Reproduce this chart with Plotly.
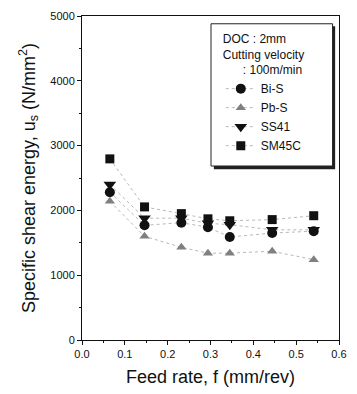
import plotly.graph_objects as go

feed = [0.065, 0.146, 0.232, 0.294, 0.345, 0.444, 0.541]
bi_s = [2280, 1770, 1810, 1740, 1590, 1650, 1680]
pb_s = [2140, 1600, 1430, 1340, 1340, 1370, 1240]
ss41 = [2400, 1880, 1880, 1800, 1780, 1700, 1700]
sm45c = [2795, 2054, 1950, 1870, 1840, 1858, 1918]

series = [
    ("Bi-S", bi_s, "circle", "#111111", 10, "dot"),
    ("Pb-S", pb_s, "triangle-up", "#808080", 9, "dot"),
    ("SS41", ss41, "triangle-down", "#111111", 11, "dot"),
    ("SM45C", sm45c, "square", "#111111", 9, "dot"),
]

fig = go.Figure()
for name, ys, sym, col, sz, dash in series:
    fig.add_trace(go.Scatter(
        x=feed, y=ys, name=name, mode="lines+markers",
        marker=dict(symbol=sym, size=sz, color=col, line=dict(width=0)),
        line=dict(color="#b8b8b8", width=1, dash=dash),
    ))

font = "Liberation Sans, Arial, sans-serif"
# legend box with shadow
fig.add_shape(type="rect", xref="paper", yref="paper", x0=0.513, x1=0.985, y0=0.527, y1=0.968,
              fillcolor="#222", line=dict(width=0), layer="above")
fig.add_shape(type="rect", xref="paper", yref="paper", x0=0.502, x1=0.975, y0=0.537, y1=0.976,
              fillcolor="white", line=dict(color="#222", width=1), layer="above")

fig.update_layout(
    width=357, height=394,
    margin=dict(l=82, r=14, t=10, b=53),
    paper_bgcolor="white", plot_bgcolor="white",
    font=dict(family=font, color="#111", size=11),
    showlegend=True,
    legend=dict(
        x=0.54, y=0.965, xanchor="left", yanchor="top",
        bgcolor="rgba(0,0,0,0)", borderwidth=0,
        font=dict(size=12, family=font),
        title=dict(text="DOC : 2mm<br>Cutting velocity<br>      : 100m/min", font=dict(size=12, family=font)),
        tracegroupgap=0, itemwidth=30,
    ),
    xaxis=dict(
        range=[0, 0.6], tickvals=[0, 0.1, 0.2, 0.3, 0.4, 0.5, 0.6],
        ticktext=["0.0", "0.1", "0.2", "0.3", "0.4", "0.5", "0.6"],
        ticks="outside", ticklen=4, tickcolor="#111",
        minor=dict(tickvals=[0.05, 0.15, 0.25, 0.35, 0.45, 0.55], ticks="outside", ticklen=2, tickcolor="#111"),
        showline=True, linecolor="#111", linewidth=1, mirror=True,
        showgrid=False, zeroline=False,
        title=dict(text="Feed rate, f (mm/rev)", font=dict(size=18, family=font), standoff=11),
        tickfont=dict(size=11),
    ),
    yaxis=dict(
        range=[0, 5000], tickvals=[0, 1000, 2000, 3000, 4000, 5000],
        ticks="outside", ticklen=4, tickcolor="#111",
        minor=dict(tickvals=[500, 1500, 2500, 3500, 4500], ticks="outside", ticklen=2, tickcolor="#111"),
        showline=True, linecolor="#111", linewidth=1, mirror=True,
        showgrid=False, zeroline=False,
        title=dict(text="Specific shear energy, u<sub>s</sub> (N/mm<sup>2</sup>)", font=dict(size=18, family=font), standoff=10),
        tickfont=dict(size=11),
    ),
)

fig.write_html("out.html")
